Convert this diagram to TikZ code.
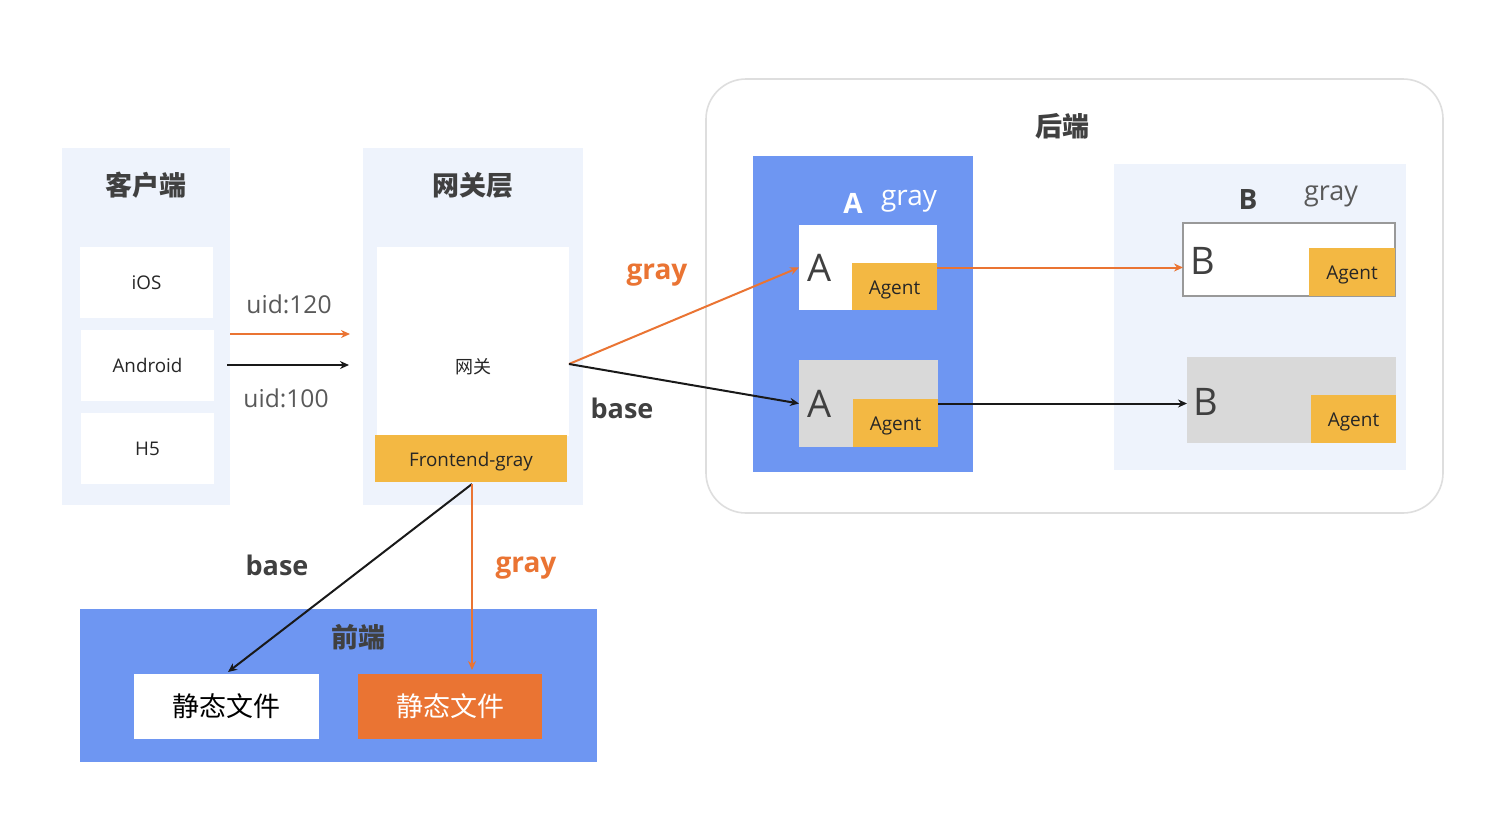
\documentclass[tikz,border=0pt]{standalone}
\usepackage{fontspec}
\setmainfont{Open Sans}
\newfontfamily\cjk{Noto Sans CJK SC}
\usetikzlibrary{arrows.meta,calc}
\definecolor{panel}{HTML}{EEF3FC}
\definecolor{blu}{HTML}{6E96F2}
\definecolor{org}{HTML}{EA7433}
\definecolor{yel}{HTML}{F3B843}
\definecolor{txt}{HTML}{404040}
\definecolor{gry}{HTML}{D9D9D9}
\newcommand{\lowtxt}[1]{\raisebox{-1.5pt}[\height][\depth]{#1}}
\tikzset{
  box/.style={rectangle, inner sep=0pt, outer sep=0pt},
  lightpanel/.style={box, fill=panel},
  bluepanel/.style={box, fill=blu},
  whitebox/.style={box, fill=white},
  graybox/.style={box, fill=gry},
  agentbox/.style={box, fill=yel, font=\fontsize{9.5}{11}\selectfont, text=black!85},
  title/.style={font=\cjk\bfseries\fontsize{13.5}{15}\selectfont, text=txt},
  itemtxt/.style={font=\fontsize{9.4}{11}\selectfont, text=black!85},
  uidtxt/.style={font=\fontsize{12.3}{14}\selectfont, text=black!65},
  orangelbl/.style={font=\bfseries\fontsize{14}{16}\selectfont, text=org},
  darklbl/.style={font=\bfseries\fontsize{13.5}{16}\selectfont, text=txt},
  bigletter/.style={font=\fontsize{19}{21}\selectfont, text=txt},
  oarrow/.style={draw=org, line width=1pt, -{Stealth[length=4.5pt,width=4pt]}},
  karrow/.style={draw=black!90, line width=1pt, -{Stealth[length=4.5pt,width=4pt]}},
}
\begin{document}
\begin{tikzpicture}[x=0.5pt,y=-0.5pt]
\useasboundingbox (0,0) rectangle (1500,815);
\fill[white] (0,0) rectangle (1500,815);

% client
\node[lightpanel, minimum width=84pt, minimum height=178.5pt] (client) at (146,326.5) {};
\node[title] (clientT) at (146,185) {客户端};
\node[whitebox, minimum width=66.5pt, minimum height=35.5pt, itemtxt] (ios) at (146.5,282.5) {iOS};
\node[whitebox, minimum width=66.5pt, minimum height=35.5pt, itemtxt] (android) at (147.5,365.5) {Android};
\node[whitebox, minimum width=66.5pt, minimum height=35.5pt, itemtxt] (h5) at (147.5,448.5) {H5};

% gateway
\node[lightpanel, minimum width=110pt, minimum height=178.5pt] (gwpanel) at (473,326.5) {};
\node[title] (gwT) at (473,185) {网关层};
\node[whitebox, minimum width=96pt, minimum height=94.5pt] (gw) at (473,341.5) {};
\node[font=\cjk\fontsize{9}{11}\selectfont, text=black!85] (gwtxt) at (473,367) {网关};
\node[box, fill=yel, minimum width=96pt, minimum height=23.5pt, itemtxt] (fg) at (471,458.5) {\lowtxt{Frontend-gray}};

% client -> gateway
\coordinate (c1s) at (230,334);
\coordinate (c1e) at (350,334);
\coordinate (c2s) at (227,365);
\coordinate (c2e) at (349,365);
\draw[oarrow] (c1s) -- (c1e);
\draw[karrow] (c2s) -- (c2e);
\node[uidtxt] (uid120) at (289,304) {uid:120};
\node[uidtxt] (uid100) at (286,398) {uid:100};

% backend
\node[box, draw=black!13, line width=0.8pt, fill=white, rounded corners=20pt, minimum width=368.5pt, minimum height=217pt] (backend) at (1074.5,296) {};
\node[title] (backendT) at (1062,126) {后端};

\node[bluepanel, minimum width=110pt, minimum height=158pt] (apanel) at (863,314) {};
\node[font=\bfseries\fontsize{14}{16}\selectfont, text=white] (aA) at (853,203) {A};
\node[font=\fontsize{14}{16}\selectfont, text=white] (agray) at (909,201) {gray};
\node[whitebox, minimum width=69pt, minimum height=42.5pt] (atop) at (868,267.5) {};
\node[bigletter] (atopL) at (820,268) {A};
\node[agentbox, minimum width=42.5pt, minimum height=23.5pt] (atopag) at (894.5,286.5) {\lowtxt{Agent}};
\node[graybox, minimum width=69.5pt, minimum height=43.5pt] (abot) at (868.5,403.5) {};
\node[bigletter] (abotL) at (820,404) {A};
\node[agentbox, minimum width=42.5pt, minimum height=24pt] (abotag) at (895.5,423) {\lowtxt{Agent}};

\node[lightpanel, minimum width=146pt, minimum height=153pt] (bpanel) at (1260,317) {};
\node[font=\bfseries\fontsize{14}{16}\selectfont, text=txt] (bB) at (1248,199) {B};
\node[font=\fontsize{13.5}{16}\selectfont, text=black!65] (bgray) at (1331,196) {gray};
\node[whitebox, draw=black!40, line width=0.6pt, minimum width=106pt, minimum height=36.5pt] (btop) at (1289,259.5) {};
\node[bigletter] (btopL) at (1203,261) {B};
\node[agentbox, minimum width=43pt, minimum height=24pt] (btopag) at (1352,272) {\lowtxt{Agent}};
\node[graybox, minimum width=104.5pt, minimum height=43pt] (bbot) at (1291.5,400) {};
\node[bigletter] (bbotL) at (1206,402) {B};
\node[agentbox, minimum width=42.5pt, minimum height=24pt] (bbotag) at (1353.5,419) {\lowtxt{Agent}};

% gateway -> A
\coordinate (gwout) at (569,364);
\draw[oarrow] (gwout) -- (atop.west);
\draw[karrow] (gwout) -- (abot.west);
\node[orangelbl] (gwgray) at (657,275) {gray};
\node[darklbl] (gwbase) at (622,408) {base};

% A -> B
\draw[oarrow] (atop.east) -- (atop.east -| btop.west);
\draw[karrow] (abot.east) -- (abot.east -| bbot.west);

% frontend
\node[bluepanel, minimum width=258.5pt, minimum height=76.5pt] (fe) at (338.5,685.5) {};
\node[title] (feT) at (358,637) {前端};
\node[whitebox, minimum width=92.5pt, minimum height=32.5pt, font=\cjk\fontsize{13.5}{15}\selectfont, text=black] (sf1) at (226.5,706.5) {静态文件};
\node[box, fill=org, minimum width=92pt, minimum height=32.5pt, font=\cjk\fontsize{13.5}{15}\selectfont, text=white] (sf2) at (450,706.5) {静态文件};

\coordinate (fgout) at (472,484);
\coordinate (sf1in) at (228,672);
\coordinate (sf2in) at (472,670);
\draw[karrow] (fgout) -- (sf1in);
\draw[oarrow] (fgout) -- (sf2in);
\node[darklbl] (febase) at (277,565) {base};
\node[orangelbl] (fegray) at (526,568) {gray};
\end{tikzpicture}
\end{document}
